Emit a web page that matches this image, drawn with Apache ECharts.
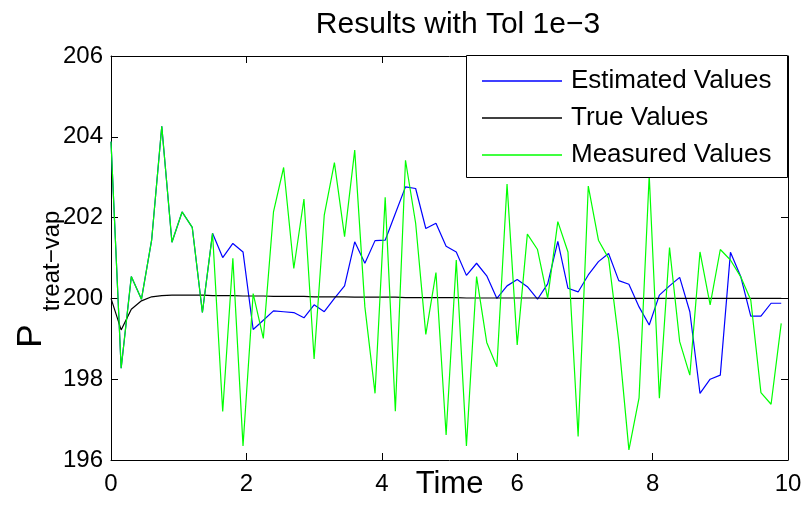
<!DOCTYPE html>
<html>
<head>
<meta charset="utf-8">
<script src="https://cdn.jsdelivr.net/npm/echarts@6/dist/echarts.min.js"></script>
<style>html,body{margin:0;padding:0;background:#fff}#c{width:805px;height:506px}</style>
</head>
<body>
<div id="c"></div>
<script>
var time = [0,0.15,0.3,0.45,0.6,0.75,0.9,1.05,1.2,1.35,1.5,1.65,1.8,1.95,2.1,2.25,2.4,2.55,2.7,2.85,3,3.15,3.3,3.45,3.6,3.75,3.9,4.05,4.2,4.35,4.5,4.65,4.8,4.95,5.1,5.25,5.4,5.55,5.7,5.85,6,6.15,6.3,6.45,6.6,6.75,6.9,7.05,7.2,7.35,7.5,7.65,7.8,7.95,8.1,8.25,8.4,8.55,8.7,8.85,9,9.15,9.3,9.45,9.6,9.75,9.9];

var estimated = [203.88,198.27,200.54,199.98,201.44,204.26,201.39,202.14,201.76,199.65,
201.61,201.01,201.36,201.15,199.23,199.46,199.69,199.67,199.65,199.52,
199.84,199.67,200.00,200.31,201.40,200.87,201.43,201.44,202.10,202.76,
202.72,201.73,201.86,201.29,201.15,200.57,200.87,200.56,200.00,200.31,
200.47,200.29,199.98,200.36,201.41,200.25,200.16,200.58,200.91,201.11,
200.44,200.35,199.79,199.34,200.08,200.31,200.52,199.67,197.65,198.00,
198.10,201.14,200.55,199.56,199.56,199.88,199.88];

var trueVals = [200.00,199.22,199.73,199.94,200.04,200.07,200.08,200.08,200.08,200.08,
200.07,200.07,200.07,200.06,200.06,200.06,200.05,200.05,200.05,200.05,
200.04,200.04,200.04,200.04,200.03,200.03,200.03,200.03,200.03,200.02,
200.02,200.02,200.02,200.02,200.02,200.01,200.01,200.01,200.01,200.01,
200.01,200.01,200.01,200.00,200.00,200.00,200.00,200.00,200.00,200.00,
200.00,200.00,200.00,200.00,200.00,200.00,200.00,200.00,200.00,200.00,
200.00,200.00,200.00,200.00,200.00,200.00,200.00];

var measured = [203.88,198.27,200.54,199.98,201.44,204.26,201.39,202.14,201.76,199.65,
201.61,197.20,200.99,196.35,200.12,199.01,202.14,203.24,200.74,202.46,
198.50,202.06,203.36,201.53,203.67,199.79,197.65,202.50,197.21,203.42,
201.86,199.11,200.64,196.62,200.95,196.35,200.54,198.91,198.31,202.83,
198.85,201.59,201.21,200.00,201.90,201.15,196.58,202.78,201.44,200.99,
198.95,196.25,197.54,203.05,197.53,201.26,198.93,198.10,201.15,199.84,
201.21,200.95,200.54,199.96,197.67,197.38,199.38];

var seriesNames = ['Estimated Values','True Values','Measured Values'];
var titleText = 'Results with Tol 1e\u22123';
var xName = 'Time';

function pairs(ys){ return time.map(function(t,i){ return [t, ys[i]]; }); }

var FONT = '"Liberation Sans", Arial, Helvetica, sans-serif';
var chart = echarts.init(document.getElementById('c'), null, {renderer:'canvas'});

var axisCommon = {
  axisLine:{show:true, onZero:false, lineStyle:{color:'#000', width:1}},
  axisTick:{show:true, inside:true, length:7, lineStyle:{color:'#000'}},
  splitLine:{show:false}
};

chart.setOption({
  animation:false,
  backgroundColor:'#fff',
  title:{
    text:titleText, left:453, top:5, textAlign:'center',
    textStyle:{fontFamily:FONT, fontSize:30, fontWeight:'normal', color:'#000'}
  },
  grid:{left:111, right:17, top:56, bottom:46, containLabel:false, outerBoundsMode:'none'},
  legend:{
    orient:'vertical', left:482, top:68, padding:0, z:10,
    icon:'rect', itemWidth:80, itemHeight:1.3, itemGap:11,
    data:seriesNames,
    textStyle:{fontFamily:FONT, fontSize:26, color:'#000', padding:[0,0,0,4]}
  },
  xAxis:[
    Object.assign({type:'value', min:0, max:10, interval:2, position:'bottom',
      name:xName, nameLocation:'middle', nameGap:9, nameMoveOverlap:false,
      nameTextStyle:{fontFamily:FONT, fontSize:31, color:'#000', verticalAlign:'top'},
      axisLabel:{fontFamily:FONT, fontSize:24, color:'#000', margin:12}}, axisCommon),
    Object.assign({type:'value', min:0, max:10, interval:2, position:'top',
      axisLabel:{show:false}}, axisCommon)
  ],
  yAxis:[
    Object.assign({type:'value', min:196, max:206, interval:2, position:'left',
      axisLabel:{fontFamily:FONT, fontSize:24, color:'#000', margin:8}}, axisCommon),
    Object.assign({type:'value', min:196, max:206, interval:2, position:'right',
      axisLabel:{show:false}}, axisCommon)
  ],
  graphic:[
    {type:'rect', left:466, top:55, z:5, shape:{width:321, height:122},
      style:{fill:'#fff', stroke:'#000', lineWidth:1}},
    {type:'text', x:31, y:336, rotation:Math.PI/2, z:100,
      style:{text:'P', font:'35px '+FONT, fill:'#000', textAlign:'center', textVerticalAlign:'middle'}},
    {type:'text', x:52, y:261, rotation:Math.PI/2, z:100,
      style:{text:'treat\u2212vap', font:'24px '+FONT, fill:'#000', textAlign:'center', textVerticalAlign:'middle'}}
  ],
  series:[
    {name:seriesNames[0], type:'line', data:pairs(estimated), symbol:'none', z:2,
      lineStyle:{color:'#0000ff', width:1.2}, itemStyle:{color:'#0000ff'}},
    {name:seriesNames[1], type:'line', data:pairs(trueVals), symbol:'none', z:2,
      lineStyle:{color:'#000000', width:1.2}, itemStyle:{color:'#000000'}},
    {name:seriesNames[2], type:'line', data:pairs(measured), symbol:'none', z:2,
      lineStyle:{color:'#00ff00', width:1.2}, itemStyle:{color:'#00ff00'}}
  ]
});
</script>
</body>
</html>
